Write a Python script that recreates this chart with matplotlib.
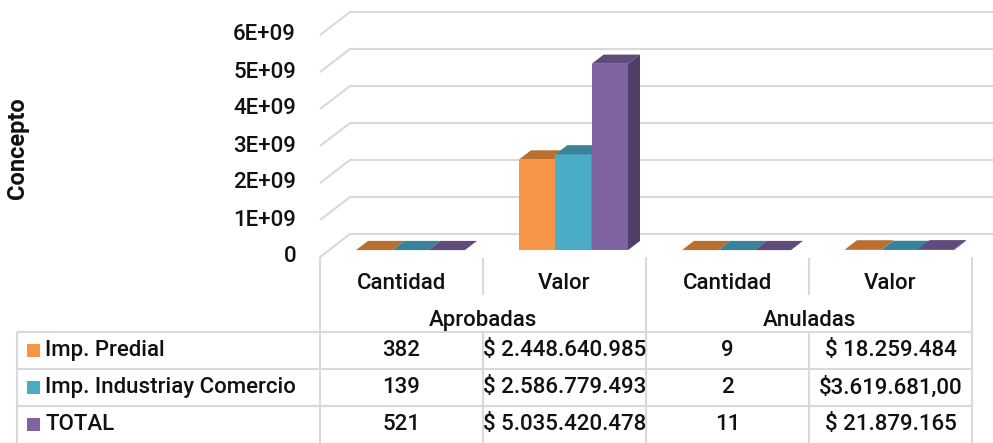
import matplotlib.pyplot as plt
from matplotlib.patches import Polygon, Rectangle

# datos de la tabla / grafico
categorias = ["Cantidad", "Valor", "Cantidad", "Valor"]
grupos = ["Aprobadas", "Anuladas"]
series = ["Imp. Predial", "Imp. Industriay Comercio", "TOTAL"]

predial = [382, 2448640985, 9, 18259484]
industria = [139, 2586779493, 2, 3619681]
total = [521, 5035420478, 11, 21879165]

textos_predial = ["382", "$ 2.448.640.985", "9", "$ 18.259.484"]
textos_industria = ["139", "$ 2.586.779.493", "2", "$3.619.681,00"]
textos_total = ["521", "$ 5.035.420.478", "11", "$ 21.879.165"]

marcas_y = [0, 1e9, 2e9, 3e9, 4e9, 5e9, 6e9]
etiquetas_y = ["0", "1E+09", "2E+09", "3E+09", "4E+09", "5E+09", "6E+09"]

color_frente = ["#F79646", "#4BACC6", "#8064A2"]
color_tapa = ["#B96F30", "#38839A", "#604B7D"]
color_lado = ["#A8632A", "#2F7488", "#4F3E68"]
gris = "#D9D9D9"
negro = "#111111"

valores = [predial, industria, total]
textos = [textos_predial, textos_industria, textos_total]

plt.rcParams["font.family"] = ["Roboto", "DejaVu Sans"]
fs = 16
peso = "medium"

W, H = 993, 443
fig = plt.figure(figsize=(W / 100, H / 100), dpi=100)

# escala: una categoria = 163 px, 1E+09 = 37 px
px = 1 / 163
vpp = 1e9 / 37
xmin = -0.5 - 320 * px
xmax = 3.5 + 21 * px

# profundidad de la pared del fondo
dx = 30 * px
dy = 23 * vpp

ax = fig.add_axes([0, 1 - 257 / H, 1, 257 / H])
ax.set_xlim(xmin, xmax)
ax.set_ylim(0, 257 * vpp)
ax.axis("off")

# Lineas de division (pared del fondo + diagonal)
for v in marcas_y:
    ax.plot([-0.5, -0.5 + dx, xmax], [v, v + dy, v + dy],
            color=gris, linewidth=1.5, solid_capstyle="butt",
            clip_on=False, zorder=1)

for v, et in zip(marcas_y, etiquetas_y):
    ax.text(-0.5 - 24 * px, v, et, ha="right", va="center",
            fontsize=fs, fontweight=peso, color=negro, clip_on=False)

# barras 3D
f0, f1 = 0.3, 0.7
ancho_grupo = 109 * px
ancho = ancho_grupo / 3
ddx = (f1 - f0) * dx
ddy = (f1 - f0) * dy

for j in range(len(categorias)):
    izq = j - ancho_grupo / 2 + f0 * dx
    base = f0 * dy
    for k in range(len(series)):
        xl = izq + k * ancho
        h = valores[k][j]
        top = base + h
        ax.add_patch(Rectangle((xl, base), ancho, h,
                               facecolor=color_frente[k], linewidth=0, zorder=3))
        ax.add_patch(Polygon([(xl, top), (xl + ancho, top),
                              (xl + ancho + ddx, top + ddy), (xl + ddx, top + ddy)],
                             closed=True, facecolor=color_tapa[k], linewidth=0, zorder=3))
        ax.add_patch(Polygon([(xl + ancho, base), (xl + ancho + ddx, base + ddy),
                              (xl + ancho + ddx, top + ddy), (xl + ancho, top)],
                             closed=True, facecolor=color_lado[k], linewidth=0, zorder=3))

# Tabla de datos
tx = fig.add_axes([0, 0, 1, (H - 257) / H])
tx.set_xlim(xmin, xmax)
tx.set_ylim(3, 3 - (H - 257) / 37)
tx.axis("off")
ytop = 3 - (H - 257) / 37
xL = -0.5 - 303 * px

def linea(xs, ys):
    tx.plot(xs, ys, color=gris, linewidth=1.5, solid_capstyle="butt", clip_on=False)

for r in [0, 1, 2]:
    linea([xL, 3.5], [r, r])
for x in [-0.5, 1.5, 3.5]:
    linea([x, x], [ytop, 3])
for x in [0.5, 2.5]:
    linea([x, x], [-2, -1])
    linea([x, x], [0, 3])
linea([xL, xL], [0, 3])

for j, cat in enumerate(categorias):
    tx.text(j, -1.32, cat, ha="center", va="center", fontsize=fs,
            fontweight=peso, color=negro)
for g, grupo in enumerate(grupos):
    tx.text(2 * g + 0.5, -0.32, grupo, ha="center", va="center", fontsize=fs,
            fontweight=peso, color=negro)

for i, nombre in enumerate(series):
    tx.add_patch(Rectangle((xL + 10 * px, i + 0.5 - 0.18), 13 * px, 0.36,
                           facecolor=color_frente[i], linewidth=0))
    tx.text(xL + 28 * px, i + 0.5, nombre, ha="left", va="center",
            fontsize=fs, fontweight=peso, color=negro)
    for j in range(len(categorias)):
        tx.text(j, i + 0.5, textos[i][j], ha="center", va="center",
                fontsize=fs, fontweight=peso, color=negro)

fig.text(18 / W, 1 - 148 / H, "Concepto", rotation=90, ha="center", va="center",
         fontsize=17, fontweight="bold", color=negro)

fig.savefig("out.png", dpi=100)
